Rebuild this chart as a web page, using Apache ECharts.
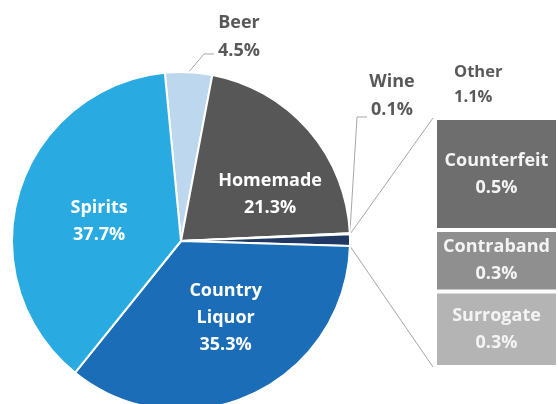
<!DOCTYPE html>
<html>
<head>
<meta charset="utf-8">
<script src="https://cdn.jsdelivr.net/npm/echarts@6/dist/echarts.min.js"></script>
<style>
html,body{margin:0;padding:0;background:#fff;}
#main{width:558px;height:404px;}
</style>
</head>
<body>
<div id="main"></div>
<script>
// pie slices, clockwise from the top
var pieNames = ['Beer', 'Homemade', 'Wine', 'Other', 'Country Liquor', 'Spirits'];
var pieValues = [4.5, 21.3, 0.1, 1.1, 35.3, 37.7];
var pieColors = ['#bdd7ee', '#575757', '#8497b0', '#1f3864', '#1a6db6', '#29abe2'];

// breakdown of "Other", top to bottom
var otherNames = ['Counterfeit', 'Contraband', 'Surrogate'];
var otherValues = [0.49, 0.27, 0.33];
var otherColors = ['#6e6e6e', '#8f8f8f', '#b4b4b4'];

var font = '"Open Sans", Lato, sans-serif';
var pieCenter = [181, 241];
var pieRadius = 169;
var startAngle = 95.5;
var gridLeft = 435, gridTop = 118, gridBottom = 37;

// nudges for the labels inside the pie
var labelShift = {'Homemade': [23, 11], 'Country Liquor': [8, -3], 'Spirits': [2, 5]};
// where the outside labels sit
var labelPlace = {'Beer': [239, 37, 'center'], 'Wine': [392, 96, 'center'], 'Other': [454, 85, 'left']};

var myChart = echarts.init(document.getElementById('main'));

var pieData = pieNames.map(function(n, i){
    var inside = !labelPlace[n];
    var item = {
        name: n,
        value: pieValues[i],
        itemStyle: {color: pieColors[i]},
        label: inside ? {
            position: 'inside', color: '#fff', fontSize: 18, lineHeight: 27
        } : {
            position: 'outside', color: '#595959',
            fontSize: n === 'Other' ? 16.5 : 18, lineHeight: n === 'Other' ? 25 : 28
        }
    };
    if (n === 'Other') item.labelLine = {show: false};
    return item;
});

var total = 0;
otherValues.forEach(function(v){ total += v; });

// stacked bar: first series sits at the bottom
var barSeries = [];
for (var i = otherNames.length - 1; i >= 0; i--) {
    barSeries.push({
        name: otherNames[i],
        type: 'bar',
        stack: 'other',
        barWidth: '100%',
        data: [otherValues[i]],
        itemStyle: {color: otherColors[i], borderColor: '#fff', borderWidth: 2},
        label: {
            show: true,
            position: 'inside',
            color: '#f4f4f4',
            fontFamily: font,
            fontWeight: 'bold',
            fontSize: 18,
            lineHeight: 27,
            formatter: function(p){ return p.seriesName + '\n' + p.value.toFixed(1) + '%'; }
        }
    });
}

var option = {
    animation: false,
    grid: {left: gridLeft, right: -2, top: gridTop, bottom: gridBottom},
    xAxis: {type: 'category', data: ['Other'], show: false},
    yAxis: {type: 'value', min: 0, max: total, show: false},
    series: [{
        type: 'pie',
        center: pieCenter,
        radius: pieRadius,
        startAngle: startAngle,
        clockwise: true,
        avoidLabelOverlap: false,
        itemStyle: {borderColor: '#fff', borderWidth: 2},
        label: {
            fontFamily: font,
            fontWeight: 'bold',
            formatter: function(p){ return p.name.replace(' ', '\n') + '\n' + p.value.toFixed(1) + '%'; }
        },
        labelLine: {lineStyle: {color: '#a6a6a6', width: 1}, length: 10, length2: 10},
        labelLayout: function(params){
            var name = pieNames[params.dataIndex];
            var r = params.labelRect;
            if (labelShift[name]) {
                return {
                    x: r.x + r.width / 2 + labelShift[name][0],
                    y: r.y + r.height / 2 + labelShift[name][1],
                    align: 'center', verticalAlign: 'middle'
                };
            }
            var p = labelPlace[name];
            var out = {x: p[0], y: p[1], align: p[2], verticalAlign: 'middle'};
            if (name !== 'Other' && params.labelLinePoints) {
                var s = params.labelLinePoints[0];
                var ly = p[1] + (name === 'Beer' ? 17 : 21);
                out.labelLinePoints = [[s[0], s[1]], [p[0] - 35, ly], [p[0] - 25, ly]];
            }
            return out;
        },
        data: pieData
    }].concat(barSeries)
};

myChart.setOption(option);

// connector lines from the "Other" slice to the bar
var sum = 0;
pieValues.forEach(function(v){ sum += v; });
var before = 0;
for (var k = 0; k < pieNames.indexOf('Other'); k++) before += pieValues[k];
var offset = 90 - startAngle;
var a0 = (offset + before / sum * 360) * Math.PI / 180;
var a1 = (offset + (before + pieValues[pieNames.indexOf('Other')]) / sum * 360) * Math.PI / 180;
var topPt = myChart.convertToPixel({gridIndex: 0}, [0, total]);
var botPt = myChart.convertToPixel({gridIndex: 0}, [0, 0]);
var lineStyle = {stroke: '#a6a6a6', lineWidth: 1};
myChart.setOption({
    graphic: [{
        type: 'line', silent: true,
        shape: {
            x1: pieCenter[0] + pieRadius * Math.sin(a0), y1: pieCenter[1] - pieRadius * Math.cos(a0),
            x2: gridLeft - 2, y2: topPt[1]
        },
        style: lineStyle
    }, {
        type: 'line', silent: true,
        shape: {
            x1: pieCenter[0] + pieRadius * Math.sin(a1), y1: pieCenter[1] - pieRadius * Math.cos(a1),
            x2: gridLeft - 2, y2: botPt[1]
        },
        style: lineStyle
    }]
});
</script>
</body>
</html>
